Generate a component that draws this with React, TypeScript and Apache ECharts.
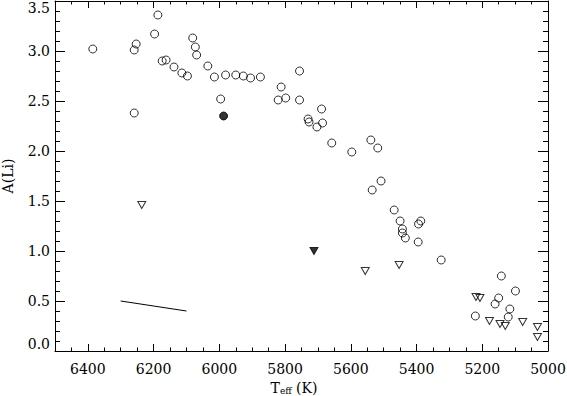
import React, { useEffect, useRef } from "react";
import * as echarts from "echarts";

// Open circles: detections [Teff, A(Li)]
const detections: [number, number][] = [
  [6385, 3.02], [6259, 3.01], [6253, 3.07], [6259, 2.38], [6197, 3.17],
  [6187, 3.36], [6174, 2.90], [6162, 2.91], [6138, 2.84], [6114, 2.78],
  [6097, 2.75], [6081, 3.13], [6073, 3.04], [6069, 2.96], [6035, 2.85],
  [6015, 2.74], [5996, 2.52], [5981, 2.76], [5950, 2.76], [5927, 2.75],
  [5905, 2.73], [5875, 2.74], [5821, 2.51], [5812, 2.64], [5798, 2.53],
  [5756, 2.80], [5756, 2.51], [5730, 2.32], [5727, 2.29], [5689, 2.42],
  [5686, 2.28], [5703, 2.24], [5658, 2.08], [5597, 1.99], [5539, 2.11],
  [5518, 2.03], [5508, 1.70], [5535, 1.61], [5468, 1.41], [5450, 1.30],
  [5443, 1.22], [5443, 1.18], [5434, 1.13], [5394, 1.27], [5387, 1.30],
  [5395, 1.09], [5325, 0.91], [5142, 0.75], [5099, 0.60], [5150, 0.53],
  [5161, 0.47], [5116, 0.42], [5121, 0.34], [5221, 0.35],
];

// Open down-triangles: upper limits
const upperLimits: [number, number][] = [
  [6236, 1.46], [5556, 0.80], [5453, 0.86], [5219, 0.54], [5207, 0.53],
  [5178, 0.30], [5146, 0.27], [5130, 0.25], [5077, 0.29], [5032, 0.24],
  [5032, 0.14],
];

const filledCircle: [number, number][] = [[5987, 2.35]];
const filledTriangle: [number, number][] = [[5712, 1.0]];
const segment: [number, number][] = [[6300, 0.5], [6100, 0.4]];

const xMin = 5000;
const xMax = 6500;
const yMin = 0;
const yMax = 3.5;

const FONT = "'DejaVu Serif', serif";

export default function App() {
  const ref = useRef<HTMLDivElement>(null);
  useEffect(() => {
    if (!ref.current) return;
    const chart = echarts.init(ref.current, undefined, { renderer: "svg" });
    const black = "#000";
    const baseX = {
      type: "value" as const,
      min: xMin,
      max: xMax,
      inverse: true,
      splitLine: { show: false },
    };
    const baseY = {
      type: "value" as const,
      min: yMin,
      max: yMax,
      interval: 0.5,
      splitLine: { show: false },
    };
    chart.setOption({
      animation: false,
      backgroundColor: "#fff",
      grid: {
        left: 55,
        right: 19,
        top: 1,
        bottom: 45,
        containLabel: false,
        outerBoundsMode: "none",
      },
      xAxis: [
        {
          ...baseX,
          position: "bottom",
          interval: 200,
          axisLine: { show: true, lineStyle: { color: black, width: 1 } },
          axisTick: { show: true, inside: true, length: 7, lineStyle: { color: black } },
          axisLabel: {
            show: true,
            margin: 11,
            color: black,
            fontFamily: FONT,
            fontSize: 14,
            showMaxLabel: false,
            formatter: (v: number) => (v % 200 === 0 ? String(v) : ""),
          },
          name: "{t|T}{s|eff}{t| (K)}",
          nameLocation: "middle",
          nameGap: 25,
          nameTextStyle: {
            color: black,
            fontFamily: FONT,
            padding: [0, 15, 0, 0],
            rich: {
              t: { fontFamily: FONT, fontSize: 14, color: black },
              s: { fontFamily: FONT, fontSize: 9, color: black, padding: [7, 0, 0, 0] },
            },
          },
        },
        {
          ...baseX,
          position: "bottom",
          interval: 50,
          axisLine: { show: false },
          axisTick: { show: true, inside: true, length: 3.5, lineStyle: { color: black } },
          axisLabel: { show: false },
        },
        {
          ...baseX,
          position: "top",
          interval: 200,
          axisLine: { show: true, lineStyle: { color: black, width: 1 } },
          axisTick: { show: true, inside: true, length: 7, lineStyle: { color: black } },
          axisLabel: { show: false },
        },
        {
          ...baseX,
          position: "top",
          interval: 50,
          axisLine: { show: false },
          axisTick: { show: true, inside: true, length: 3.5, lineStyle: { color: black } },
          axisLabel: { show: false },
        },
      ],
      yAxis: [
        {
          ...baseY,
          position: "left",
          axisLine: { show: true, lineStyle: { color: black, width: 1 } },
          axisTick: { show: true, inside: true, length: 10, lineStyle: { color: black } },
          minorTick: { show: true, splitNumber: 5, length: 5, lineStyle: { color: black } },
          axisLabel: {
            show: true,
            margin: 5,
            color: black,
            fontFamily: FONT,
            fontSize: 14,
            formatter: (v: number) => v.toFixed(1),
            verticalAlignMinLabel: "bottom",
            verticalAlignMaxLabel: "top",
          },
          name: "A(Li)",
          nameLocation: "middle",
          nameGap: 40,
          nameTextStyle: { color: black, fontFamily: FONT, fontSize: 14 },
        },
        {
          ...baseY,
          position: "right",
          axisLine: { show: true, lineStyle: { color: black, width: 1 } },
          axisTick: { show: true, inside: true, length: 10, lineStyle: { color: black } },
          minorTick: { show: true, splitNumber: 5, length: 5, lineStyle: { color: black } },
          axisLabel: { show: false },
        },
      ],
      series: [
        {
          type: "line",
          data: segment,
          showSymbol: false,
          symbol: "none",
          lineStyle: { color: black, width: 1 },
          xAxisIndex: 0,
          yAxisIndex: 0,
        },
        {
          type: "scatter",
          data: detections,
          symbol: "circle",
          symbolSize: 8,
          itemStyle: { color: "rgba(0,0,0,0)", borderColor: black, borderWidth: 1 },
          xAxisIndex: 0,
          yAxisIndex: 0,
        },
        {
          type: "scatter",
          data: upperLimits,
          symbol: "triangle",
          symbolRotate: 180,
          symbolSize: [8, 7],
          itemStyle: { color: "rgba(0,0,0,0)", borderColor: black, borderWidth: 1 },
          xAxisIndex: 0,
          yAxisIndex: 0,
        },
        {
          type: "scatter",
          data: filledCircle,
          symbol: "circle",
          symbolSize: 8,
          itemStyle: { color: black, borderColor: black, borderWidth: 1 },
          xAxisIndex: 0,
          yAxisIndex: 0,
        },
        {
          type: "scatter",
          data: filledTriangle,
          symbol: "triangle",
          symbolRotate: 180,
          symbolSize: [8, 7],
          itemStyle: { color: black, borderColor: black, borderWidth: 1 },
          xAxisIndex: 0,
          yAxisIndex: 0,
        },
      ],
    });
    return () => chart.dispose();
  }, []);
  return (
    <div
      ref={ref}
      style={{ position: "absolute", left: 0, top: 0, width: 567, height: 396, background: "#fff" }}
    />
  );
}
